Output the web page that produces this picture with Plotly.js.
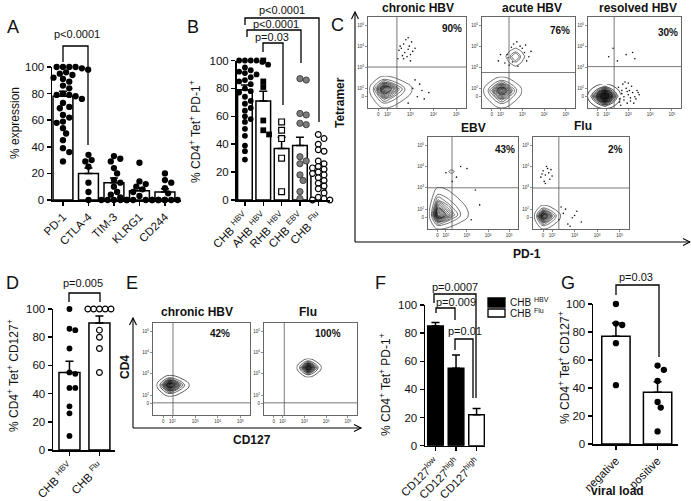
<!DOCTYPE html>
<html><head><meta charset="utf-8">
<script src="https://cdn.plot.ly/plotly-3.0.1.min.js"></script>
<style>body{margin:0;background:#fff}#chart{width:691px;height:501px}</style>
</head><body><div id="chart"></div>
<script>
// ---------------- DATA ----------------
// Panel A
const A_cats = ['PD-1','CTLA-4','TIM-3','KLRG1','CD244'];
const A_mean = [78, 20, 13, 7, 6];
const A_sem  = [3.7, 4, 3.5, 2.2, 2.5];
const A_pd1  = [100,100,100,100,100,99,99,98,97,96,95,94,92,91,89,86,84,80,79,79,78,77,76,73,70,69,64,62,59,58,54,50,45,39,36,29];
const A_ctla4 = [34,30,29,25,13,6,0];
const A_tim3 = [33,31,29,24,20,15,13,10,6,4,2,0,0,0,0];
const A_klrg1 = [28,14,12,10,8,6,3,0,0,0,0,0,0,0];
const A_cd244 = [20,15,13,9,5,0,0,0,0,0,0];
// Panel B
const B_cats = ['CHB <sup>HBV</sup>','AHB <sup>HBV</sup>','RHB <sup>HBV</sup>','CHB <sup>EBV</sup>','CHB <sup>Flu</sup>'];
const B_mean = [79, 71, 37, 39, 21];
const B_sem  = [3.5, 7, 8, 6, 3.5];
const B_chb = [100,100,100,100,100,99,98,97,95,93,92,91,90,88,86,85,83,80,78,77,74,71,69,66,64,60,58,56,51,46,39,35,29];
const B_ahb = [100,85,81,57,50,47];
const B_rhb = [56,50,44,30,6];
const B_ebv = [87,86,62,61,55,54,31,28,26,18,14,6,1];
const B_flu = [47,44,40,36,35,28,26,24,23,22,20,19,18,16,14,12,10,8,5,2,1,0,0];
// Panel D
const D_cats = ['CHB <sup>HBV</sup>','CHB <sup>Flu</sup>'];
const D_mean = [55, 90];
const D_sem  = [8, 5];
const D_hbv = [100,86,85,72,55,54,44,44,31,26,10];
const D_flu = [100,100,100,100,100,100,85,80,72,55];
// Panel F
const F_cats = ['CD127<sup>low</sup>','CD127<sup>high</sup>','CD127<sup>high</sup>'];
const F_mean = [85, 55, 22];
const F_sem  = [2.5, 9.5, 4.5];
const F_group = ['HBV','HBV','Flu'];
const F_legend = ['CHB <sup>HBV</sup>','CHB <sup>Flu</sup>'];
// Panel G
const G_cats = ['negative','positive'];
const G_mean = [77, 37];
const G_sem  = [9.5, 7.5];
const G_neg = [100,86,85,72,42];
const G_pos = [56,53,45,30,26,9];
// Flow plots (C1..C5, E1, E2), coordinates in log-decade units
const FLOW_titles = ['chronic HBV','acute HBV','resolved HBV','EBV','Flu','chronic HBV','Flu'];
const FLOW_pct = ['90%','76%','30%','43%','2%','42%','100%'];
const FLOW_tickvals = [1.6, 2, 3, 4, 5];
const FLOW_ticktext = ['0','10<sup>2</sup>','10<sup>3</sup>','10<sup>4</sup>','10<sup>5</sup>'];
const FLOW_gates = [[2.41,3.01],[2.39,2.75],[2.35,3.03],[2.29,3.0],[2.3,2.99],[2.03,1.64],[2.08,1.64]];
// population extents: [xmin, xcenter, xmax, ymin, ycenter, ymax]
const C1_pop = [1.2, 1.85, 3.1, 1.05, 1.97, 2.6];
const C2_pop = [1.2, 2.05, 3.0, 1.05, 1.9, 2.56];
const C2_pop2 = [2.2, 2.69, 3.15, 3.0, 3.5, 3.95];
const C3_pop = [1.15, 1.92, 2.65, 1.05, 1.63, 2.2];
const C4_pop = [1.2, 1.62, 3.1, 1.05, 1.73, 3.05];
const C4_pop2 = [2.08, 2.26, 2.46, 3.64, 3.76, 3.88];
const C5_pop = [1.2, 1.6, 2.4, 1.05, 1.68, 2.2];
const E1_pop = [1.3, 1.88, 2.77, 1.93, 2.47, 2.94];
const E2_pop = [2.64, 3.18, 3.8, 2.83, 3.29, 3.72];
// density shape shared by all populations
const BLOB = [
 [0,0.1,0.2,0.6,1,0.6,0.2,0.1,0],
 [0.1,0.4,1.3,3.3,6,3.3,1.3,0.4,0.1],
 [0.2,1.3,4.8,12,22,12,4.8,1.3,0.2],
 [0.6,3.3,12,30,55,30,12,3.3,0.6],
 [1,6,22,55,100,55,22,6,1],
 [0.6,3.3,12,30,55,30,12,3.3,0.6],
 [0.2,1.3,4.8,12,22,12,4.8,1.3,0.2],
 [0.1,0.4,1.3,3.3,6,3.3,1.3,0.4,0.1],
 [0,0.1,0.2,0.6,1,0.6,0.2,0.1,0]];
// sparse events
const C1_evx = [2.45,2.6,2.7,2.75,2.8,2.9,2.95,3.0,3.05,3.1,2.85,2.65,2.5,3.2,2.9,3.0,2.55,2.7,3.1,3.3,3.5,3.2,3.6,3.4,2.9,3.8];
const C1_evy = [3.4,3.9,4.1,3.7,4.3,3.85,4.0,3.6,4.2,3.75,3.5,3.55,3.8,3.9,4.4,3.3,4.0,3.4,2.0,1.6,1.9,2.4,1.5,2.2,1.3,1.8];
const C2_evx = [2.2,2.3,2.5,2.9,3.1,3.2,2.4,2.8,3.0,2.6,2.35,3.3,3.4,2.75,2.55,3.15,1.9,2.0];
const C2_evy = [3.2,3.6,3.95,4.0,3.7,3.3,3.1,3.05,3.9,4.1,3.45,3.5,3.75,4.2,3.25,4.05,3.3,3.6];
const C3_evx = [2.6,2.7,2.8,2.9,3.0,3.1,3.2,3.3,3.4,2.75,2.95,3.15,3.35,2.65,2.85,3.05,3.25,3.5,2.7,3.0,2.1,2.3,2.5,2.9,3.2,3.3,2.6,2.8,3.1,3.45,2.55,2.95];
const C3_evy = [1.5,1.9,1.6,2.0,1.7,1.4,1.8,1.6,1.9,2.2,1.3,2.1,1.5,1.2,2.3,1.9,1.3,1.7,1.75,2.25,3.5,3.9,3.3,3.6,3.7,3.4,1.35,1.45,1.55,1.8,2.05,1.85];
const C4_evx = [2.0,2.3,3.0,3.4,3.6,2.5,3.2,2.7];
const C4_evy = [3.7,3.3,3.9,2.9,2.2,3.5,1.5,4.0];
const C5_evx = [1.5,1.6,1.7,1.8,1.9,1.65,1.75,1.85,2.0,1.55,1.7,1.95,2.3,2.5,2.7,2.9,3.1,3.3,2.6,2.8,3.0,2.4];
const C5_evy = [3.5,3.8,3.6,3.9,3.4,3.3,4.0,3.7,3.55,3.65,3.2,3.85,1.5,1.8,1.3,1.6,1.9,1.4,2.0,1.2,1.7,2.1];

// ---------------- HELPERS ----------------
const W = 691, H = 501;
const FONT = 'Liberation Sans, Arial, sans-serif';
const px = x => x / W;
const py = y => 1 - y / H;
const traces = [];
const layout = {
  width: W, height: H, margin: {l:0, r:0, t:0, b:0},
  paper_bgcolor: 'white', plot_bgcolor: 'rgba(0,0,0,0)',
  showlegend: false, font: {family: FONT, color: '#111'},
  shapes: [], annotations: []
};
function ax(n){ return n === 1 ? '' : String(n); }
function text(x, y, t, size, opts) {
  layout.annotations.push(Object.assign({xref:'paper', yref:'paper', x:px(x), y:py(y), text:t,
    showarrow:false, xanchor:'center', yanchor:'middle',
    font:{size:size, family:FONT, color:'#111'}}, opts || {}));
}
function poly(pts, w, color, fill) {
  let d = 'M ' + pts.map(p => px(p[0]) + ' ' + py(p[1])).join(' L ');
  if (fill) d += ' Z';
  layout.shapes.push({type:'path', xref:'paper', yref:'paper', path:d,
    line:{color: color || 'black', width: w || 1.2}, fillcolor: fill || 'rgba(0,0,0,0)'});
}
function bracket(xl, xr, top, bl, br) {
  poly([[xl, bl], [xl, top], [xr, top], [xr, br]], 1.3);
}

function barPanel(n, fr, cats, mean, sem, colors, width) {
  const xa = 'x' + ax(n), ya = 'y' + ax(n);
  layout['xaxis' + ax(n)] = {domain:[px(fr.x0), px(fr.x1)], range: fr.xr, anchor: ya,
    showline:true, linecolor:'black', linewidth:1.5, ticks:'outside', ticklen:4, tickwidth:1.5,
    tickcolor:'black', tickvals: cats.map((c,i)=>i), ticktext: cats, tickangle:-45,
    tickfont:{size:11.5, family:FONT, color:'#111'}, showgrid:false, zeroline:false};
  layout['yaxis' + ax(n)] = {domain:[py(fr.y0), py(fr.y100)], range:[0,100], anchor: xa,
    showline:true, linecolor:'black', linewidth:1.5, ticks:'outside', ticklen:4, tickwidth:1.5,
    tickcolor:'black', tickvals:[0,20,40,60,80,100], tickfont:{size:11.5, family:FONT, color:'#111'},
    showgrid:false, zeroline:false};
  traces.push({type:'bar', x: cats.map((c,i)=>i), y: mean, width: width,
    marker:{color: colors, line:{color:'black', width:1.5}},
    error_y:{type:'data', symmetric:false, array: sem, arrayminus: sem.map(()=>0),
      color:'black', thickness:1.5, width:4},
    xaxis: xa, yaxis: ya, hoverinfo:'skip'});
}
function swarm(vals, ci, pxX, pxY, d) {
  const order = vals.map((v,i)=>i).sort((a,b)=>vals[b]-vals[a]);
  const placed = [], out = new Array(vals.length);
  for (const i of order) {
    const yp = vals[i] * pxY;
    let off = 0;
    for (let k = 0; k < 60; k++) {
      const cand = (k % 2 === 1 ? 1 : -1) * Math.ceil(k/2) * d * 0.5;
      if (placed.every(p => Math.hypot(p[0]-cand, p[1]-yp) >= d * 0.95)) { off = cand; break; }
    }
    placed.push([off, yp]);
    out[i] = ci + off / pxX;
  }
  return out;
}
function dots(n, fr, ci, vals, marker) {
  const pxX = (fr.x1 - fr.x0) / (fr.xr[1] - fr.xr[0]);
  const pxY = (fr.y0 - fr.y100) / 100;
  traces.push({type:'scatter', mode:'markers', x: swarm(vals, ci, pxX, pxY, marker.size), y: vals,
    marker: marker, cliponaxis:false, xaxis:'x'+ax(n), yaxis:'y'+ax(n), hoverinfo:'skip'});
}
function grid(a, c, b) {
  return [a, a+(c-a)*0.25, a+(c-a)*0.5, a+(c-a)*0.75, c, c+(b-c)*0.25, c+(b-c)*0.5, c+(b-c)*0.75, b];
}
function flowPanel(n, fr, idx, pops, evx, evy) {
  const xa = 'x' + ax(n), ya = 'y' + ax(n);
  const common = {showline:true, mirror:true, linecolor:'#666', linewidth:1, ticks:'outside',
    ticklen:2, tickwidth:0.6, tickcolor:'#444', tickvals: FLOW_tickvals, ticktext: FLOW_ticktext,
    tickfont:{size:4.5, family:FONT, color:'#333'}, showgrid:false, zeroline:false};
  layout['xaxis' + ax(n)] = Object.assign({domain:[px(fr.x0), px(fr.x1)], range:[1.15,5.42], anchor: ya}, common);
  layout['yaxis' + ax(n)] = Object.assign({domain:[py(fr.y1), py(fr.y0)], range:[1.07,5.38], anchor: xa}, common);
  pops.forEach(p => {
    const pop = p.pop;
    traces.push({type:'contour', x: grid(pop[0],pop[1],pop[2]), y: grid(pop[3],pop[4],pop[5]), z: BLOB,
      contours: Object.assign({coloring:'lines'}, p.levels), line:{width:p.lw, smoothing:1.3},
      colorscale:[[0,'#111'],[1,'#111']], showscale:false, xaxis:xa, yaxis:ya, hoverinfo:'skip'});
  });
  if (evx) traces.push({type:'scatter', mode:'markers', x: evx, y: evy,
    marker:{size:1.6, color:'#111'}, xaxis:xa, yaxis:ya, hoverinfo:'skip'});
  const g = FLOW_gates[idx];
  layout.shapes.push({type:'line', xref:xa, yref:ya+' domain', x0:g[0], x1:g[0], y0:0, y1:1, line:{color:'#555', width:0.8}});
  layout.shapes.push({type:'line', xref:xa+' domain', yref:ya, x0:0, x1:1, y0:g[1], y1:g[1], line:{color:'#555', width:0.8}});
  text(fr.tx, fr.ty, '<b>' + FLOW_titles[idx] + '</b>', 12);
  text(fr.ppx, fr.ppy, '<b>' + FLOW_pct[idx] + '</b>', 10);
}

// ---------------- PANELS ----------------
const frA = {x0:52, x1:181, y0:200, y100:67, xr:[-0.43, 4.63]};
const frB = {x0:236.5, x1:330, y0:200, y100:60.5, xr:[-0.46, 4.64]};
const frD = {x0:53, x1:115, y0:450, y100:309, xr:[-0.55, 1.52]};
const frF = {x0:425, x1:485, y0:445.7, y100:305, xr:[-0.51, 2.41]};
const frG = {x0:593, x1:678, y0:444, y100:304, xr:[-0.55, 1.49]};

const mBlack = {size:6.3, color:'black'};

barPanel(1, frA, A_cats, A_mean, A_sem, 'white', 0.78);
[A_pd1, A_ctla4, A_tim3, A_klrg1, A_cd244].forEach((v,i) => dots(1, frA, i, v, mBlack));

barPanel(2, frB, B_cats, B_mean, B_sem, 'white', 0.8);
dots(2, frB, 0, B_chb, {size:5.8, color:'black'});
dots(2, frB, 1, B_ahb, {size:5.8, symbol:'square', color:'black'});
dots(2, frB, 2, B_rhb, {size:5.8, symbol:'square', color:'white', line:{color:'black', width:1.2}});
dots(2, frB, 3, B_ebv, {size:6.3, color:'#7b7b7b', line:{color:'#333', width:0.8}});
dots(2, frB, 4, B_flu, {size:5.8, color:'white', line:{color:'black', width:1.2}});

barPanel(3, frD, D_cats, D_mean, D_sem, 'white', 0.7);
dots(3, frD, 0, D_hbv, {size:5.8, color:'black'});
dots(3, frD, 1, D_flu, {size:5.8, color:'white', line:{color:'black', width:1.2}});

barPanel(4, frF, F_cats, F_mean, F_sem, F_group.map(g => g === 'HBV' ? 'black' : 'white'), 0.76);

barPanel(5, frG, G_cats, G_mean, G_sem, 'white', 0.68);
dots(5, frG, 0, G_neg, mBlack);
dots(5, frG, 1, G_pos, mBlack);

// flow plots
const L_std = {start:1.5, end:96, size:6};
flowPanel(6, {x0:368, x1:466, y0:17, y1:108, tx:418, ty:8, ppx:452, ppy:29}, 0,
  [{pop:C1_pop, levels:L_std, lw:0.6}], C1_evx, C1_evy);
flowPanel(7, {x0:482, x1:575, y0:17, y1:108, tx:532, ty:8, ppx:560, ppy:31}, 1,
  [{pop:C2_pop, levels:L_std, lw:0.6}, {pop:C2_pop2, levels:{start:3, end:40, size:18}, lw:0.6}], C2_evx, C2_evy);
flowPanel(8, {x0:588, x1:681, y0:17, y1:108, tx:638, ty:8, ppx:668, ppy:32}, 2,
  [{pop:C3_pop, levels:{start:0.8, end:98, size:3.5}, lw:0.8}], C3_evx, C3_evy);
flowPanel(9, {x0:428, x1:518, y0:137, y1:229, tx:473, ty:128, ppx:505, ppy:149}, 3,
  [{pop:C4_pop, levels:L_std, lw:0.6}, {pop:C4_pop2, levels:{start:10, end:12, size:5}, lw:0.6}], C4_evx, C4_evy);
flowPanel(10, {x0:533, x1:629, y0:137, y1:229, tx:583, ty:126, ppx:615, ppy:149}, 4,
  [{pop:C5_pop, levels:{start:1.5, end:96, size:6}, lw:0.6}], C5_evx, C5_evy);
flowPanel(11, {x0:153, x1:250, y0:323, y1:415, tx:197, ty:312, ppx:220, ppy:333}, 5,
  [{pop:E1_pop, levels:{start:1.5, end:96, size:5.5}, lw:0.7}], null, null);
flowPanel(12, {x0:264, x1:357, y0:323, y1:415, tx:308, ty:312, ppx:328, ppy:333}, 6,
  [{pop:E2_pop, levels:{start:1.5, end:96, size:5.5}, lw:0.7}], null, null);

// ---------------- DECORATIONS ----------------
[['A',13,27],['B',193,27],['C',337,25],['D',12,283],['E',132,283],['F',380,283],['G',568,283]]
  .forEach(l => text(l[1], l[2], l[0], 18));
text(15, 123, '% expression', 12, {textangle:-90});
text(195, 132, '% CD4<sup>+</sup> Tet<sup>+</sup> PD-1<sup>+</sup>', 12, {textangle:-90});
text(13, 376, '% CD4<sup>+</sup> Tet<sup>+</sup> CD127<sup>+</sup>', 12, {textangle:-90});
text(385, 385, '% CD4<sup>+</sup> Tet<sup>+</sup> PD-1<sup>+</sup>', 12, {textangle:-90});
text(564, 368, '% CD4<sup>+</sup> Tet<sup>+</sup> CD127<sup>+</sup>', 12, {textangle:-90});
text(617, 491, '<b>viral load</b>', 12);
bracket(63, 88, 46, 62, 145);   text(77, 34, 'p<0.0001', 11);
bracket(245, 319, 18, 25, 122); text(282, 10, 'p<0.0001', 11);
bracket(247, 301, 30, 37, 63);  text(276, 24, 'p<0.0001', 11);
bracket(263, 283, 43, 52, 105); text(272, 37, 'p=0.03', 11);
bracket(69, 100, 293, 302, 302); text(83, 283, 'p=0.005', 11);
bracket(434, 476, 294, 303, 398); text(455, 287, 'p=0.0007', 11);
bracket(436, 455, 308, 313, 320); text(456, 302, 'p=0.009', 11);
bracket(455, 473, 339, 350, 398); text(465, 331, 'p=0.01', 11);
bracket(616, 659, 285, 295, 357); text(636, 277, 'p=0.03', 11);
poly([[488,298],[505,298],[505,307],[488,307]], 1.3, 'black', 'black');
poly([[488,309],[505,309],[505,317],[488,317]], 1.3, 'black', 'white');
text(508, 302, F_legend[0], 10, {xanchor:'left'});
text(508, 313, F_legend[1], 10, {xanchor:'left'});
poly([[355,242],[355,12]], 1.1); poly([[351.5,19],[355,12],[358.5,19]], 1.1);
poly([[355,242],[690,242]], 1.1); poly([[683,238.5],[690,242],[683,245.5]], 1.1);
text(340, 103, '<b>Tetramer</b>', 12, {textangle:-90});
text(527, 254, '<b>PD-1</b>', 12);
poly([[133,428],[133,318]], 1.1); poly([[129.5,325],[133,318],[136.5,325]], 1.1);
poly([[133,428],[361,428]], 1.1); poly([[354,424.5],[361,428],[354,431.5]], 1.1);
text(125, 367, '<b>CD4</b>', 12, {textangle:-90});
text(252, 440, '<b>CD127</b>', 12);

Plotly.newPlot('chart', traces, layout, {staticPlot:true, displayModeBar:false});
</script>
</body></html>
